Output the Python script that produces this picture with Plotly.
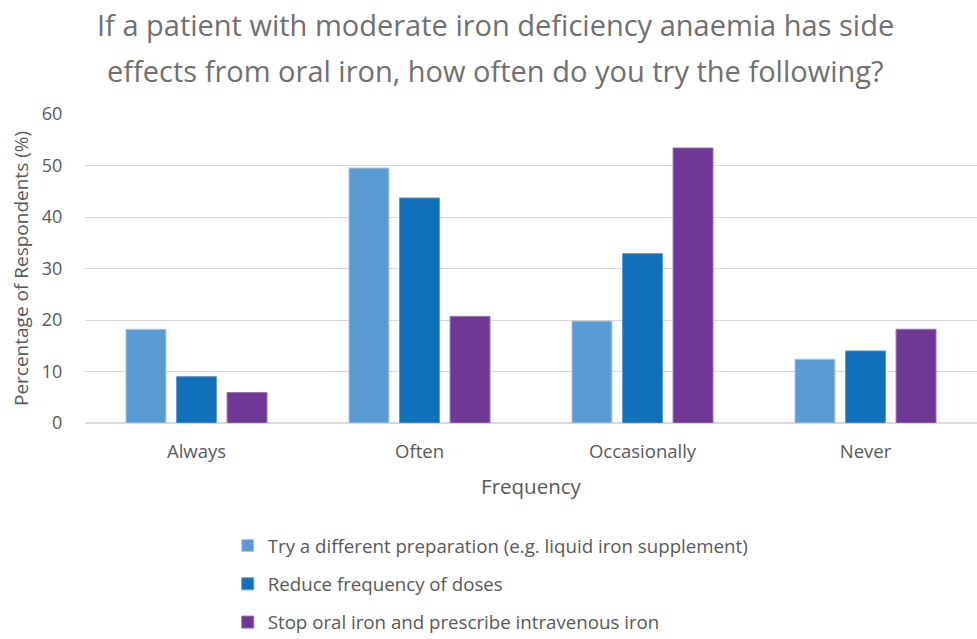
import plotly.graph_objects as go

categories = ["Always", "Often", "Occasionally", "Never"]
series_names = [
    "Try a different preparation (e.g. liquid iron supplement)",
    "Reduce frequency of doses",
    "Stop oral iron and prescribe intravenous iron",
]
try_different = [18.2, 49.5, 19.8, 12.4]
reduce_freq = [9.0, 43.7, 32.9, 14.0]
stop_oral = [5.9, 20.7, 53.4, 18.2]
title_lines = [
    "If a patient with moderate iron deficiency anaemia has side",
    "effects from oral iron, how often do you try the following?",
]

colors = ["#5B9BD5", "#1170BA", "#6E3894"]
borders = ["#A9C6EA", "#5C9BD6", "#9B6FC0"]
values = [try_different, reduce_freq, stop_oral]

font_family = "'Open Sans', sans-serif"

fig = go.Figure()
for i, (name, vals) in enumerate(zip(series_names, values)):
    fig.add_trace(go.Bar(
        x=categories, y=vals, name=name,
        marker=dict(color=colors[i], line=dict(color=borders[i], width=1)),
        legendgroup=str(i),
    ))

# title lines (two centred lines at the top of the figure)
for txt, ypos in zip(title_lines, [1.291, 1.142]):
    fig.add_annotation(
        text=txt, xref="paper", yref="paper", x=0.460, y=ypos,
        xanchor="center", yanchor="middle", showarrow=False,
        font=dict(family=font_family, size=29, color="#707070"),
    )

fig.update_layout(
    width=977, height=639,
    paper_bgcolor="white", plot_bgcolor="white",
    margin=dict(l=85, r=0, t=114, b=216, autoexpand=False),
    barmode="group", bargap=0.32, bargroupgap=0.21,
    font=dict(family=font_family, color="#595959"),
    legend=dict(
        orientation="v", x=0.160, xanchor="left", y=-0.336, yanchor="top",
        font=dict(size=18.7, color="#595959"),
        traceorder="grouped", tracegroupgap=11,
        itemwidth=30,
    ),
    showlegend=True,
)
fig.update_xaxes(
    showgrid=False, showline=True, linecolor="#D9D9D9", linewidth=1,
    tickfont=dict(size=18.5, color="#595959"),
    title=dict(text="Frequency", font=dict(size=20.5, color="#595959"), standoff=17),
    ticks="outside", ticklen=12, tickcolor="rgba(255,255,255,0)",
)
fig.update_yaxes(
    range=[0, 60], dtick=10, showgrid=True, gridcolor="#D9D9D9", gridwidth=1,
    zeroline=True, zerolinecolor="#D9D9D9",
    tickfont=dict(size=18, color="#595959"),
    title=dict(text="Percentage of Respondents (%)", font=dict(size=19, color="#595959"), standoff=8),
    ticks="outside", ticklen=18, tickcolor="rgba(255,255,255,0)",
)
fig.write_html(
    "out.html",
    config={"displayModeBar": False},
    post_script="document.body.style.margin='0px';document.body.style.overflow='hidden';",
)
